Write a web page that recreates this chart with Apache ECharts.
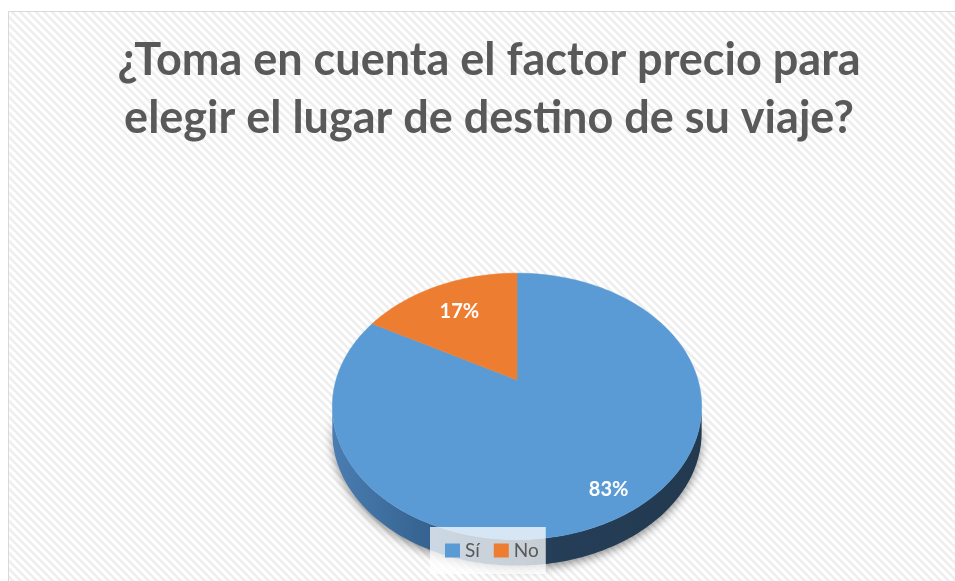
<!DOCTYPE html>
<html>
<head>
<meta charset="utf-8">
<script src="https://cdn.jsdelivr.net/npm/echarts@6/dist/echarts.min.js"></script>
<style>
  html, body { margin: 0; padding: 0; background: #fff; }
  #main { width: 955px; height: 581px; }
</style>
</head>
<body>
<div id="main"></div>
<script>
const categories = ['Sí', 'No'];
const values = [83, 17];
const colors = ['#5b9bd5', '#ed7d31'];
const titleText = '¿Toma en cuenta el factor precio para\nelegir el lugar de destino de su viaje?';

const total = values.reduce((a, b) => a + b, 0);

// tilted disc seen in perspective (Excel style 3D pie)
const cx = 517, cy = 380, R = 181, B = 128, K = 0.198, depth = 26;
const sideFrom = Math.acos(-K), sideTo = 2 * Math.PI - Math.acos(-K);
const labelRadius = [0.85, 0.7];

function project(theta, r) {
  // theta: clockwise from 12 o'clock
  const u = r * Math.sin(theta), v = r * Math.cos(theta);
  const w = 1 + K * v;
  return [cx + R * u / w, cy - B * v / w];
}

const sideFill = [
  new echarts.graphic.LinearGradient(332, 0, 702, 0, [
    { offset: 0, color: '#4a7db2' },
    { offset: 0.28, color: '#34618d' },
    { offset: 0.55, color: '#263f59' },
    { offset: 1, color: '#22394f' }
  ], true),
  '#b05c22'
];

function arc(a0, a1) {
  const pts = [];
  const n = Math.max(2, Math.ceil((a1 - a0) / 0.02));
  for (let s = 0; s <= n; s++) pts.push(project(a0 + (a1 - a0) * s / n, 1));
  return pts;
}

function renderItem(params, api) {
  const i = params.seriesIndex;
  let start = 0;
  for (let j = 0; j < i; j++) start += values[j];
  const val = api.value(0);
  const a0 = start / total * 2 * Math.PI;
  const a1 = (start + val) / total * 2 * Math.PI;
  const children = [];

  children.push({
    type: 'polygon',
    shape: { points: [[cx, cy]].concat(arc(a0, a1)) },
    style: { fill: colors[i], stroke: colors[i], lineWidth: 0.5 },
    z2: 10
  });

  const lo = Math.max(a0, sideFrom), hi = Math.min(a1, sideTo);
  if (hi > lo) {
    const rim = arc(lo, hi);
    const pts = rim.concat(rim.slice().reverse().map(p => [p[0], p[1] + depth]));
    children.push({
      type: 'polygon',
      shape: { points: pts },
      style: {
        fill: sideFill[i],
        shadowBlur: 10,
        shadowOffsetY: 3,
        shadowColor: 'rgba(0,0,0,0.45)'
      },
      z2: 0
    });
  }

  const lp = project((a0 + a1) / 2, labelRadius[i]);
  children.push({
    type: 'text',
    x: lp[0],
    y: lp[1],
    style: {
      text: Math.round(val / total * 100) + '%',
      fill: '#ffffff',
      fontFamily: 'Lato',
      fontWeight: 'bold',
      fontSize: 20,
      align: 'center',
      verticalAlign: 'middle'
    },
    z2: 20
  });

  return { type: 'group', children: children };
}

// light diagonal hatching for the chart area
const tile = document.createElement('canvas');
tile.width = tile.height = 8;
const g = tile.getContext('2d');
g.fillStyle = '#ffffff';
g.fillRect(0, 0, 8, 8);
g.strokeStyle = '#eeeeee';
g.lineWidth = 2.5;
g.beginPath();
g.moveTo(-2, -2); g.lineTo(10, 10);
g.moveTo(-2, 6); g.lineTo(2, 10);
g.moveTo(6, -2); g.lineTo(10, 2);
g.stroke();

const chart = echarts.init(document.getElementById('main'));
chart.setOption({
  animation: false,
  graphic: [{
    type: 'rect',
    z: -10,
    shape: { x: 8.5, y: 11.5, width: 1000, height: 620 },
    style: { fill: { image: tile, repeat: 'repeat' }, stroke: '#d9d9d9', lineWidth: 1 }
  }, {
    // chart title
    type: 'text',
    x: 489,
    y: 31,
    style: {
      text: titleText,
      align: 'center',
      verticalAlign: 'top',
      fontFamily: 'Lato',
      fontWeight: 'bold',
      fontSize: 45,
      lineHeight: 58,
      fill: '#595959'
    }
  }],
  legend: {
    data: categories,
    left: 430,
    top: 527,
    padding: [14, 7, 14, 15],
    backgroundColor: 'rgba(255,255,255,0.75)',
    icon: 'rect',
    itemWidth: 15,
    itemHeight: 14,
    itemGap: 14,
    textStyle: { fontFamily: 'Lato', fontSize: 19, color: '#595959' }
  },
  series: categories.map((name, i) => ({
    type: 'custom',
    name: name,
    coordinateSystem: 'none',
    color: colors[i],
    renderItem: renderItem,
    data: [[values[i]]]
  }))
});
window.onresize = () => chart.resize();
</script>
</body>
</html>
